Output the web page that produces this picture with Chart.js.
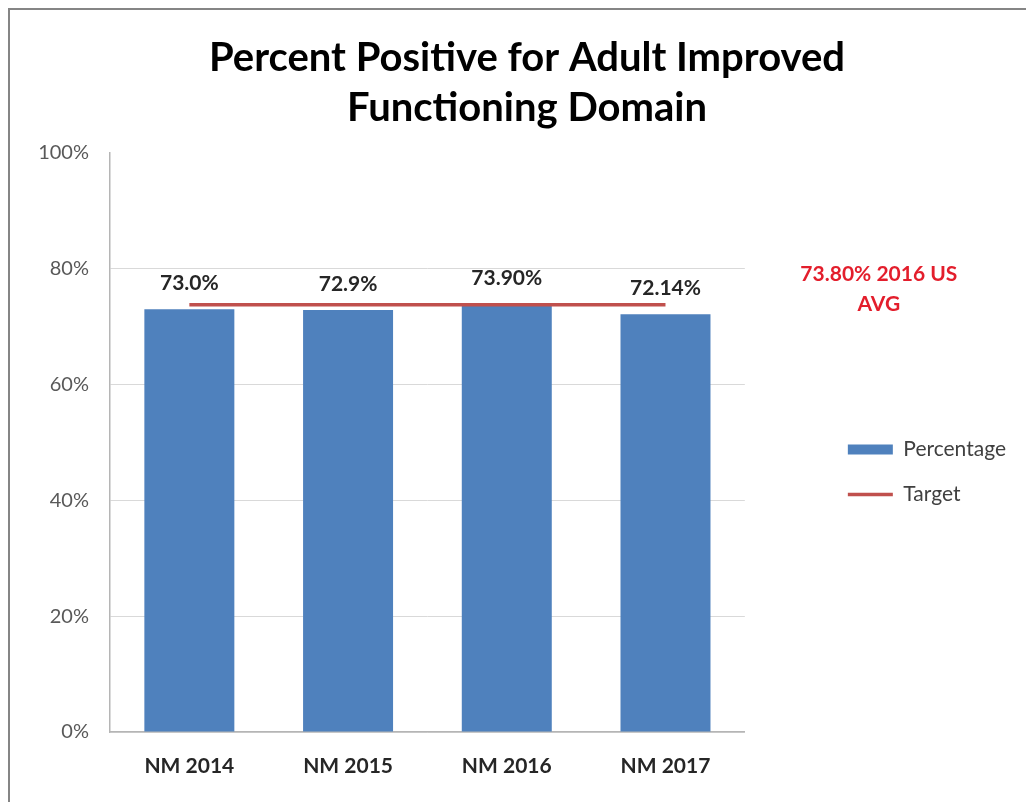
<!DOCTYPE html>
<html>
<head>
<meta charset="utf-8">
<title>Percent Positive for Adult Improved Functioning Domain</title>
<script src="https://cdn.jsdelivr.net/npm/chart.js@4.4.0/dist/chart.umd.min.js"></script>
<style>
  html, body { margin: 0; padding: 0; background: #fff; overflow: hidden; }
  #chart { display: block; }
</style>
</head>
<body>
<canvas id="chart" width="1026" height="802"></canvas>
<script>
// data
const years = ['NM 2014', 'NM 2015', 'NM 2016', 'NM 2017'];
const percentage = [73.0, 72.9, 73.9, 72.14];
const percentageLabels = ['73.0%', '72.9%', '73.90%', '72.14%'];
const target = [73.8, 73.8, 73.8, 73.8];
const targetNote = ['73.80% 2016 US', 'AVG'];
const yTicks = [0, 20, 40, 60, 80, 100];

const FONT = 'Lato';
const legendFontSize = 21;
const legendLeft = 848;   // where the legend swatches start
const plotLeft = 110;
const plotRight = 745;
const padLeft = 38;
const padRight = 10;

Chart.defaults.font.family = FONT;
Chart.defaults.color = '#595959';

// white background and the grey frame on top / left
const framePlugin = {
    id: 'frame',
    beforeDraw(chart) {
        const ctx = chart.ctx;
        ctx.save();
        ctx.fillStyle = '#fff';
        ctx.fillRect(0, 0, chart.width, chart.height);
        ctx.strokeStyle = '#858585';
        ctx.lineWidth = 2;
        ctx.beginPath();
        ctx.moveTo(9, chart.height);
        ctx.lineTo(9, 9);
        ctx.lineTo(chart.width, 9);
        ctx.stroke();
        ctx.restore();
    }
};

// value labels above the bars
const barLabelsPlugin = {
    id: 'barLabels',
    afterDatasetsDraw(chart) {
        const meta = chart.getDatasetMeta(0);
        const ctx = chart.ctx;
        ctx.save();
        ctx.fillStyle = '#262626';
        ctx.font = 'bold 21px ' + FONT;
        ctx.textAlign = 'center';
        ctx.textBaseline = 'alphabetic';
        meta.data.forEach((bar, i) => {
            ctx.fillText(percentageLabels[i], bar.x, bar.y - 19);
        });
        ctx.restore();
    }
};

// red note for the US average, right of the plot
const notePlugin = {
    id: 'targetNote',
    afterDraw(chart) {
        const ctx = chart.ctx;
        const y = chart.scales.y.getPixelForValue(80) + 12;
        const x = chart.chartArea.right + 134;
        ctx.save();
        ctx.fillStyle = '#e31e2c';
        ctx.font = 'bold 21px ' + FONT;
        ctx.textAlign = 'center';
        targetNote.forEach((line, i) => ctx.fillText(line, x, y + i * 30));
        ctx.restore();
    }
};

const ctx = document.getElementById('chart').getContext('2d');
new Chart(ctx, {
    type: 'bar',
    data: {
        labels: years,
        datasets: [{
            type: 'bar',
            label: 'Percentage',
            data: percentage,
            backgroundColor: '#4F81BD',
            borderWidth: 0,
            barPercentage: 0.567,
            categoryPercentage: 1,
            pointStyle: 'rect',
            order: 1
        }, {
            type: 'line',
            label: 'Target',
            data: target,
            borderColor: '#C0504D',
            backgroundColor: '#C0504D',
            borderWidth: 3.5,
            pointRadius: 0,
            fill: false,
            pointStyle: 'line',
            order: 0
        }]
    },
    options: {
        responsive: false,
        animation: false,
        layout: {
            padding: { top: 10, left: padLeft, right: padRight, bottom: 10 }
        },
        plugins: {
            tooltip: { enabled: false },
            title: {
                display: true,
                text: ['Percent Positive for Adult Improved', 'Functioning Domain'],
                color: '#000',
                font: { size: 40, weight: 'bold', lineHeight: 50 / 40 },
                padding: { top: 23, bottom: 20 }
            },
            legend: {
                position: 'right',
                fullSize: false,
                maxWidth: 400,
                title: {
                    display: true,
                    text: ' ',
                    font: { size: 10, lineHeight: 1 },
                    padding: { top: 0, bottom: 49 }
                },
                labels: {
                    usePointStyle: true,
                    pointStyleWidth: 45,
                    boxHeight: 10,
                    padding: 24,
                    color: '#404040',
                    font: { size: legendFontSize },
                    sort: (a, b) => a.datasetIndex - b.datasetIndex
                }
            }
        },
        scales: {
            x: {
                grid: { display: false, drawTicks: false },
                border: { display: true, color: '#b5b5b5', width: 1.5 },
                ticks: {
                    color: '#262626',
                    font: { size: 21, weight: 'bold' },
                    padding: 22
                },
                afterFit(scale) { scale.height = 60; }
            },
            y: {
                min: 0,
                max: 100,
                afterBuildTicks(scale) {
                    scale.ticks = yTicks.map(v => ({ value: v }));
                },
                grid: {
                    drawTicks: false,
                    color: c => (c.tick && c.tick.value === 100) ? 'rgba(0,0,0,0)' : '#d9d9d9',
                    lineWidth: 1
                },
                border: { display: true, color: '#b5b5b5', width: 1.5 },
                ticks: {
                    color: '#595959',
                    font: { size: 20 },
                    padding: 21,
                    callback: v => v + '%'
                },
                afterFit(scale) { scale.width = plotLeft - padLeft; }
            },
            // empty axis that keeps the gap between the plot and the legend
            gap: {
                type: 'linear',
                position: 'right',
                display: true,
                grid: { display: false, drawTicks: false },
                border: { display: false },
                ticks: { display: false },
                afterFit(scale) { scale.width = legendLeft - 24 - plotRight; }
            }
        }
    },
    plugins: [framePlugin, barLabelsPlugin, notePlugin]
});
</script>
</body>
</html>
